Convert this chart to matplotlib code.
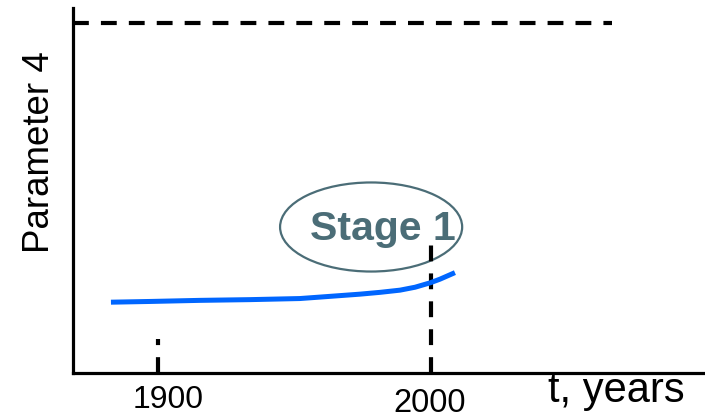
#!/usr/bin/env python3

import numpy as np
from matplotlib import pyplot as plt
from matplotlib.patches import Ellipse

plt.rcParams['font.family'] = ['Liberation Sans', 'DejaVu Sans']

# curve (year, parameter value)
years = [1882.8, 1897.1, 1915.4, 1933.7, 1952.0, 1959.4, 1966.7, 1974.0,
         1981.4, 1988.7, 1994.2, 1999.7, 2003.3, 2008.8]
values = [19.4, 19.6, 19.9, 20.1, 20.4, 20.8, 21.2, 21.6,
          22.1, 22.7, 23.5, 24.7, 25.7, 27.5]

limit_value = 95.9
limit_end = 2066.3
marks = [1900, 2000]
mark_tops = [9.3, 37.0]
mark_labels = ['1900', '2000']
stage_label = 'Stage 1'

fig = plt.figure(figsize=(7.05, 4.19), dpi=100)
ax = fig.add_axes([73 / 705, 46 / 419, 632 / 705, 365 / 419])
ax.set_xlim(1868.9, 2100.4)
ax.set_ylim(0, 100)

for side in ['top', 'right']:
    ax.spines[side].set_visible(False)
for side in ['left', 'bottom']:
    ax.spines[side].set_linewidth(2.3)
ax.set_xticks([])
ax.set_yticks([])

dash = (0, (3.8, 2.9))
ax.plot([1868.9, limit_end], [limit_value, limit_value], color='black', lw=3, linestyle=dash, clip_on=False)
for m, top in zip(marks, mark_tops):
    ax.plot([m, m], [0, top], color='black', lw=3, linestyle=(0, (3.8, 2.9)), clip_on=False)

ax.plot(years, values, color='#0066ff', lw=3.6, solid_capstyle='butt', solid_joinstyle='round')

slate = '#4b6d77'
ax.add_patch(Ellipse((1978.1, 40.0), 66.7, 24.4, fill=False, edgecolor=slate, lw=1.6))
ax.text(1982.3, 36.4, stage_label, color=slate, fontsize=29.5, fontweight='bold',
        ha='center', va='baseline')

fig.text(168 / 705, 11 / 419, mark_labels[0], fontsize=23, ha='center', va='baseline')
fig.text(430 / 705, 7.5 / 419, mark_labels[1], fontsize=23.5, ha='center', va='baseline')
fig.text(616 / 705, 17 / 419, 't, years', fontsize=30, ha='center', va='baseline')
fig.text(40 / 705, (419 - 152) / 419, 'Parameter 4', fontsize=26.5, rotation=90,
         ha='center', va='center')

plt.savefig('out.png')
